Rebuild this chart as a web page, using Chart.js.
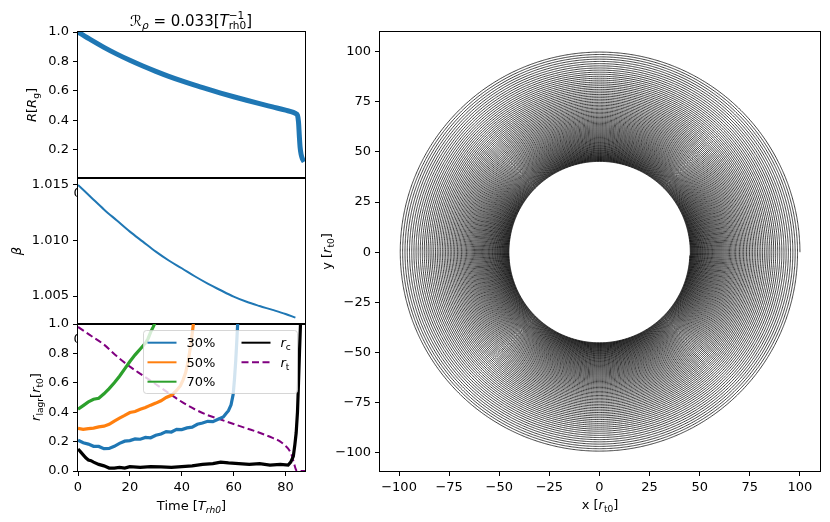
<!DOCTYPE html>
<html lang="en">
<head>
<meta charset="UTF-8">
<title>Orbital decay</title>
<script src="https://cdn.jsdelivr.net/npm/chart.js"></script>
<style>
  body { margin: 0; background: #fff; }
  #wrap { position: relative; width: 830px; height: 522px; }
  canvas { position: absolute; left: 0; top: 0; }
</style>
</head>
<body>
<div id="wrap">
  <canvas id="rChart" width="830" height="522"></canvas>
  <canvas id="betaChart" width="830" height="522"></canvas>
  <canvas id="lagrChart" width="830" height="522"></canvas>
  <canvas id="orbitChart" width="830" height="522"></canvas>
</div>
<script>
// top panel: cluster galactocentric radius
var timeR = [0, 5, 10, 15, 20, 25, 30, 35, 40, 45, 50, 55, 60, 65, 70, 75, 80, 83, 84, 84.6, 85, 85.3, 85.6, 86, 86.5, 87.2];
var radiusR = [1.0, 0.946, 0.896, 0.85, 0.808, 0.769, 0.733, 0.699, 0.668, 0.639, 0.612, 0.586, 0.561, 0.537, 0.514, 0.492, 0.47, 0.455, 0.446, 0.435, 0.39, 0.30, 0.22, 0.17, 0.14, 0.12];

// middle panel: beta
var timeB = [0, 5, 10, 15, 20, 25, 30, 35, 40, 45, 50, 55, 60, 65, 70, 75, 80, 83.8];
var betaB = [1.0150, 1.0139, 1.0128, 1.0118, 1.0108, 1.0099, 1.0090, 1.0082, 1.0075, 1.00678, 1.00612, 1.00552, 1.00495, 1.00448, 1.0041, 1.00375, 1.00338, 1.00305];

// bottom panel: lagrangian radii, core and tidal radius
var t30 = [0, 2, 4, 6, 8, 10, 12, 14, 16, 18, 20, 22, 24, 26, 28, 30, 32, 34, 36, 38, 40, 42, 44, 46, 48, 50, 52, 54, 56, 57, 58, 59, 59.8, 60.3, 60.8, 61.2, 61.6];
var r30 = [0.21, 0.192, 0.183, 0.168, 0.167, 0.152, 0.153, 0.168, 0.188, 0.203, 0.207, 0.218, 0.216, 0.228, 0.226, 0.243, 0.252, 0.268, 0.265, 0.283, 0.282, 0.293, 0.298, 0.318, 0.326, 0.338, 0.336, 0.352, 0.368, 0.39, 0.41, 0.45, 0.52, 0.62, 0.75, 0.88, 1.02];
var t50 = [0, 2, 4, 6, 8, 10, 12, 14, 16, 18, 20, 22, 24, 26, 28, 30, 32, 34, 36, 38, 39.5, 40.5, 41.5, 42.5, 43.3, 44, 44.6];
var r50 = [0.29, 0.283, 0.288, 0.292, 0.3, 0.305, 0.318, 0.34, 0.36, 0.378, 0.398, 0.405, 0.42, 0.432, 0.448, 0.462, 0.478, 0.5, 0.515, 0.548, 0.58, 0.62, 0.67, 0.75, 0.84, 0.93, 1.02];
var t70 = [0, 2, 4, 6, 8, 10, 12, 14, 16, 18, 20, 22, 24, 26, 27, 28, 29, 30];
var r70 = [0.42, 0.445, 0.47, 0.488, 0.495, 0.525, 0.56, 0.6, 0.645, 0.695, 0.745, 0.79, 0.83, 0.87, 0.9, 0.945, 0.98, 1.02];
var tCore = [0, 1, 2, 3, 4, 5, 6, 8, 10, 12, 14, 16, 18, 20, 24, 28, 32, 36, 40, 44, 48, 52, 55, 58, 62, 66, 70, 74, 78, 81, 82, 83, 83.6, 84.1, 84.6, 85, 85.4, 85.8];
var rCore = [0.15, 0.13, 0.11, 0.09, 0.075, 0.07, 0.06, 0.045, 0.035, 0.02, 0.02, 0.025, 0.02, 0.03, 0.025, 0.03, 0.028, 0.025, 0.03, 0.035, 0.045, 0.05, 0.06, 0.055, 0.05, 0.045, 0.05, 0.04, 0.045, 0.04, 0.06, 0.1, 0.18, 0.26, 0.4, 0.6, 0.82, 1.02];
var tTidal = [0, 5, 10, 15, 20, 25, 30, 35, 40, 45, 50, 55, 60, 65, 70, 75, 78, 80, 81.5, 82.5, 83.3, 84, 84.5, 87.5];
var rTidal = [0.98, 0.92, 0.86, 0.78, 0.71, 0.65, 0.59, 0.53, 0.47, 0.42, 0.38, 0.35, 0.32, 0.29, 0.26, 0.225, 0.2, 0.17, 0.14, 0.1, 0.05, 0.01, 0, 0];
var lagrNames = ['30%', '50%', '70%'];

// right panel: orbit radius at each turn (counted off the spiral)
var orbitRingRadius = [100.00, 98.80, 97.62, 96.46, 95.33, 94.21, 93.11, 92.04, 90.98, 89.94,
  88.92, 87.91, 86.93, 85.96, 85.01, 84.08, 83.16, 82.26, 81.38, 80.51,
  79.66, 78.82, 78.00, 77.19, 76.39, 75.62, 74.85, 74.10, 73.36, 72.63,
  71.92, 71.22, 70.53, 69.86, 69.20, 68.54, 67.90, 67.28, 66.66, 66.05,
  65.46, 64.87, 64.30, 63.73, 63.18, 62.64, 62.10, 61.58, 61.06, 60.56,
  60.06, 59.57, 59.09, 58.62, 58.16, 57.70, 57.26, 56.82, 56.39, 55.96,
  55.55, 55.14, 54.74, 54.35, 53.96, 53.58, 53.21, 52.84, 52.48, 52.13,
  51.78, 51.44, 51.10, 50.78, 50.45, 50.14, 49.82, 49.52, 49.22, 48.92,
  48.63, 48.35, 48.07, 47.79, 47.52, 47.26, 47.00, 46.74, 46.49, 46.24,
  46.00, 45.76, 45.53, 45.30, 45.08];

// tick labels
var timeTicks = [0, 20, 40, 60, 80];
var rTicks = [0.2, 0.4, 0.6, 0.8, 1.0];
var betaTicks = [1.005, 1.010, 1.015];
var lagrTicks = [0, 0.2, 0.4, 0.6, 0.8, 1.0];
var orbitTicks = [-100, -75, -50, -25, 0, 25, 50, 75, 100];

var FONT = '"DejaVu Sans", sans-serif';
Chart.defaults.font.family = FONT;
Chart.defaults.font.size = 13;
Chart.defaults.color = '#000';

function pairs(xs, ys) {
  return xs.map(function (x, i) { return { x: x, y: ys[i] }; });
}

function richFont(p, size) {
  var s = (p.sub || p.sup) ? size * 0.7 : size;
  return (p.i ? 'italic ' : '') + s + 'px ' + FONT;
}

// text with italics, sub- and superscripts
function drawRich(ctx, parts, x, y, size, opt) {
  opt = opt || {};
  ctx.save();
  ctx.translate(x, y);
  if (opt.rotate) ctx.rotate(-Math.PI / 2);
  ctx.fillStyle = '#000';
  ctx.textAlign = 'left';
  ctx.textBaseline = 'alphabetic';
  var widths = [], total = 0;
  parts.forEach(function (p) {
    ctx.font = richFont(p, size);
    var w = ctx.measureText(p.t).width;
    widths.push(w);
    if (!p.keep) total += w;
  });
  var cx = opt.align === 'left' ? 0 : -total / 2;
  var base = size * 0.36;
  parts.forEach(function (p, i) {
    ctx.font = richFont(p, size);
    var dy = p.sub ? size * 0.22 : (p.sup ? -size * 0.45 : 0);
    ctx.fillText(p.t, cx, base + dy);
    if (!p.keep) cx += widths[i];
  });
  ctx.restore();
}

// axis whose box fills the margin, so its tick labels are not clipped
function scaleOpts(axis, box, min, max, tickValues, fmt, showLabels, showTicks) {
  return {
    type: 'linear',
    position: axis === 'x' ? 'bottom' : 'left',
    min: min,
    max: max,
    afterBuildTicks: function (s) {
      s.ticks = tickValues.map(function (v) { return { value: v }; });
    },
    afterFit: function (s) {
      if (axis === 'x') s.height = 522 - box.b; else s.width = box.l;
    },
    grid: { drawOnChartArea: false, drawTicks: showTicks, tickLength: 5, tickColor: '#000', tickWidth: 1 },
    border: { display: false },
    ticks: { display: showLabels, padding: 4, color: '#000', autoSkip: false, maxRotation: 0, callback: fmt }
  };
}

function fixed(n) {
  return function (v) { return Number(v).toFixed(n); };
}
function signed(v) {
  return v < 0 ? '\u2212' + Math.abs(v) : String(v);
}

function line(data, color, width, extra) {
  var ds = {
    data: data, borderColor: color, borderWidth: width, showLine: true,
    pointRadius: 0, fill: false, clip: 0
  };
  for (var k in extra) ds[k] = extra[k];
  return ds;
}

function makeChart(id, box, datasets, xScale, yScale, drawExtra) {
  return new Chart(document.getElementById(id), {
    type: 'scatter',
    data: { datasets: datasets },
    options: {
      responsive: false,
      devicePixelRatio: 1,
      animation: false,
      events: [],
      layout: {
        autoPadding: false,
        padding: { left: 0, top: box.t, right: 830 - box.r, bottom: 0 }
      },
      plugins: { legend: { display: false }, tooltip: { enabled: false }, title: { display: false } },
      scales: { x: xScale, y: yScale }
    },
    plugins: [{
      id: 'frameAndText',
      afterDraw: function (chart) {
        var a = chart.chartArea, ctx = chart.ctx;
        ctx.save();
        ctx.strokeStyle = '#000';
        ctx.lineWidth = 1;
        ctx.strokeRect(a.left - 0.5, a.top - 0.5, a.right - a.left + 1, a.bottom - a.top + 1);
        ctx.restore();
        if (drawExtra) drawExtra(ctx, chart);
      }
    }]
  });
}

// half-hidden "0" tick label of the panel above
function peekZero(ctx, top) {
  ctx.save();
  ctx.beginPath();
  ctx.rect(0, top, 77, 20);
  ctx.clip();
  ctx.font = '13px ' + FONT;
  ctx.fillStyle = '#000';
  ctx.textAlign = 'center';
  ctx.textBaseline = 'top';
  ctx.fillText('0', 77.7, top + 9);
  ctx.restore();
}

var C_BLUE = '#1f77b4', C_ORANGE = '#ff7f0e', C_GREEN = '#2ca02c', C_PURPLE = '#800080';

// --- top panel
var boxR = { l: 78, t: 32, r: 305, b: 178 };
makeChart('rChart', boxR,
  [line(pairs(timeR, radiusR), C_BLUE, 5, { cubicInterpolationMode: 'monotone' })],
  scaleOpts('x', boxR, 0, 87.5, timeTicks, fixed(0), false, false),
  scaleOpts('y', boxR, 0.01, 1.0, rTicks, fixed(1), true, true),
  function (ctx) {
    drawRich(ctx, [{ t: '\u211B' }, { t: '\u03C1', sub: 1, i: 1 }, { t: ' = 0.033[' }, { t: 'T', i: 1 },
      { t: '\u22121', sup: 1, keep: 1 }, { t: 'rh0', sub: 1 }, { t: ']' }], 191, 20.5, 15);
    drawRich(ctx, [{ t: 'R', i: 1 }, { t: '[' }, { t: 'R', i: 1 }, { t: 'g', sub: 1 }, { t: ']' }], 31.7, 105, 13, { rotate: true });
  });

// --- middle panel
var boxB = { l: 78, t: 178, r: 305, b: 324 };
makeChart('betaChart', boxB,
  [line(pairs(timeB, betaB), C_BLUE, 2, { cubicInterpolationMode: 'monotone' })],
  scaleOpts('x', boxB, 0, 87.5, timeTicks, fixed(0), false, false),
  scaleOpts('y', boxB, 1.00248, 1.01563, betaTicks, fixed(3), true, true),
  function (ctx) {
    peekZero(ctx, 178);
    drawRich(ctx, [{ t: '\u03B2', i: 1 }], 16.7, 251, 13, { rotate: true });
  });

// --- bottom panel
var legendEntries = [
  { parts: [{ t: lagrNames[0] }], color: C_BLUE, col: 0, row: 0 },
  { parts: [{ t: lagrNames[1] }], color: C_ORANGE, col: 0, row: 1 },
  { parts: [{ t: lagrNames[2] }], color: C_GREEN, col: 0, row: 2 },
  { parts: [{ t: 'r', i: 1 }, { t: 'c', sub: 1 }], color: '#000', col: 1, row: 0 },
  { parts: [{ t: 'r', i: 1 }, { t: 't', sub: 1 }], color: C_PURPLE, col: 1, row: 1, dash: [7, 3.5] }
];

function drawLegend(ctx) {
  var x = 143.5, y = 330.5, w = 154, h = 63, rad = 3;
  ctx.save();
  ctx.beginPath();
  ctx.moveTo(x + rad, y);
  ctx.arcTo(x + w, y, x + w, y + h, rad);
  ctx.arcTo(x + w, y + h, x, y + h, rad);
  ctx.arcTo(x, y + h, x, y, rad);
  ctx.arcTo(x, y, x + w, y, rad);
  ctx.closePath();
  ctx.fillStyle = 'rgba(255,255,255,0.8)';
  ctx.fill();
  ctx.strokeStyle = 'rgba(204,204,204,0.8)';
  ctx.lineWidth = 1;
  ctx.stroke();
  var colX = [147.5, 241.5], rowY = [342.7, 362.3, 381.7];
  legendEntries.forEach(function (e) {
    var lx = colX[e.col], ly = rowY[e.row];
    ctx.beginPath();
    ctx.setLineDash(e.dash || []);
    ctx.strokeStyle = e.color;
    ctx.lineWidth = 2;
    ctx.moveTo(lx, ly);
    ctx.lineTo(lx + 29, ly);
    ctx.stroke();
    ctx.setLineDash([]);
    drawRich(ctx, e.parts, lx + 39, ly, 13, { align: 'left' });
  });
  ctx.restore();
}

var boxL = { l: 78, t: 324, r: 305, b: 471 };
makeChart('lagrChart', boxL,
  [
    line(pairs(t30, r30), C_BLUE, 3.2),
    line(pairs(t50, r50), C_ORANGE, 3.2),
    line(pairs(t70, r70), C_GREEN, 3.2),
    line(pairs(tCore, rCore), '#000', 3.2),
    line(pairs(tTidal, rTidal), C_PURPLE, 2, { borderDash: [7, 3.5], cubicInterpolationMode: 'monotone' })
  ],
  scaleOpts('x', boxL, 0, 87.5, timeTicks, fixed(0), true, true),
  scaleOpts('y', boxL, 0, 1.0, lagrTicks, fixed(1), true, true),
  function (ctx) {
    peekZero(ctx, 324);
    drawLegend(ctx);
    drawRich(ctx, [{ t: 'r', i: 1 }, { t: 'lagr', sub: 1 }, { t: '[' }, { t: 'r', i: 1 }, { t: 't0', sub: 1 }, { t: ']' }], 35, 397, 13, { rotate: true });
    drawRich(ctx, [{ t: 'Time [' }, { t: 'T', i: 1 }, { t: 'rh0', sub: 1, i: 1 }, { t: ']' }], 191.5, 505, 13);
  });

// --- orbit panel: each turn traced at its measured radius
var orbitPoints = [];
var STEPS = 180;
for (var i = 0; i < orbitRingRadius.length - 1; i++) {
  var r0 = orbitRingRadius[i], r1 = orbitRingRadius[i + 1];
  for (var k = 0; k < STEPS; k++) {
    var f = k / STEPS, ang = 2 * Math.PI * (i + f), r = r0 + (r1 - r0) * f;
    orbitPoints.push({ x: r * Math.cos(ang), y: r * Math.sin(ang) });
  }
}

var boxO = { l: 380, t: 32, r: 820, b: 471 };
makeChart('orbitChart', boxO,
  // small tension keeps Chart.js off its column-merging fast path
  [line(orbitPoints, '#000', 0.75, { tension: 0.01 })],
  scaleOpts('x', boxO, -109.5, 110, orbitTicks, signed, true, true),
  scaleOpts('y', boxO, -109, 109.7, orbitTicks, signed, true, true),
  function (ctx) {
    drawRich(ctx, [{ t: 'x [' }, { t: 'r', i: 1 }, { t: 't0', sub: 1 }, { t: ']' }], 600, 504, 13);
    drawRich(ctx, [{ t: 'y [' }, { t: 'r', i: 1 }, { t: 't0', sub: 1 }, { t: ']' }], 326, 251.5, 13, { rotate: true });
  });
</script>
</body>
</html>
